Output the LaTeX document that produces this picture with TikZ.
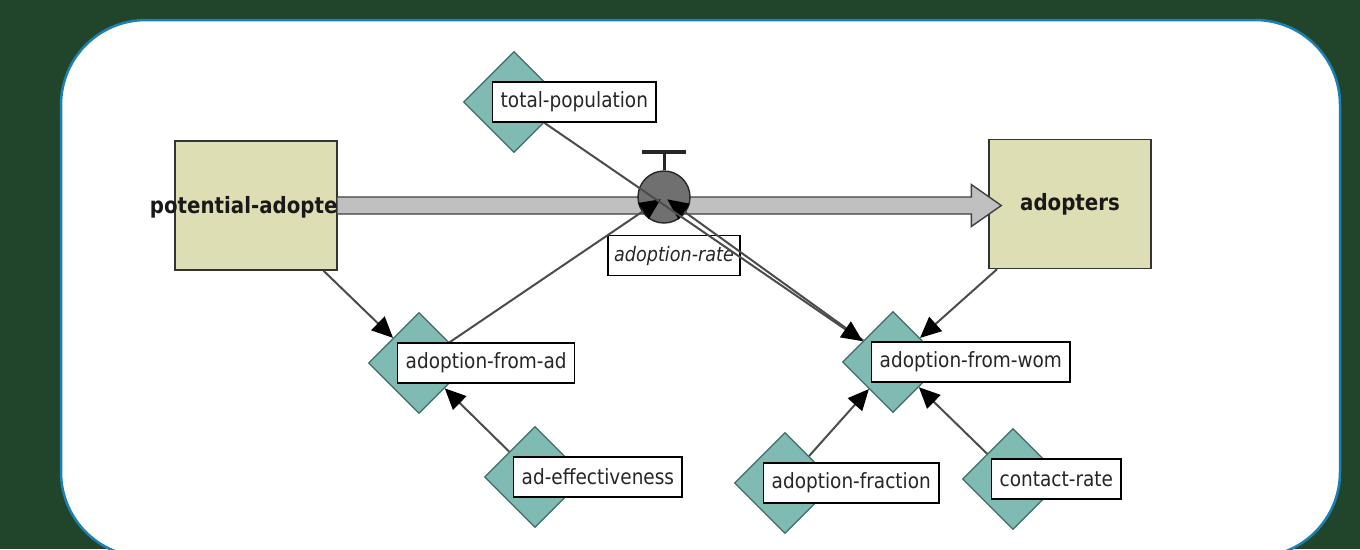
\documentclass[tikz,border=0pt]{standalone}
\usepackage{fontspec}
\newfontfamily\sdfont[FakeStretch=0.88]{DejaVu Sans}
\usetikzlibrary{arrows.meta,positioning,calc,shapes.geometric}
\definecolor{bgdark}{HTML}{21452B}
\definecolor{panelrim}{HTML}{1C80B4}
\definecolor{stockfill}{HTML}{DEDEB4}
\definecolor{auxfill}{HTML}{7FBAB3}
\definecolor{auxrim}{HTML}{3E6B66}
\definecolor{pipefill}{HTML}{C0C0C0}
\definecolor{valvefill}{HTML}{707070}
\tikzset{
  stock/.style={rectangle, draw=black!80, line width=1.4pt, fill=stockfill,
    minimum width=162pt, minimum height=129pt, inner sep=0pt},
  aux/.style={diamond, draw=auxrim, line width=1.2pt, fill=auxfill,
    minimum width=101pt, minimum height=101pt, inner sep=0pt},
  tag/.style={rectangle, draw=black, line width=1.4pt, fill=white, anchor=west,
    inner xsep=8pt, inner ysep=0pt, minimum height=40pt,
    font=\sdfont\fontsize{21}{24}\selectfont, text=black!85},
  stocklbl/.style={font=\sdfont\bfseries\fontsize{22.5}{26}\selectfont, text=black!90},
  link/.style={-{Triangle[length=21pt,width=19pt,color=black]}, line width=2pt, draw=black!70},
  pipe/.style={draw=black!75, line width=1.4pt, fill=pipefill},
}
\begin{document}
\begin{tikzpicture}[x=1pt, y=-1pt]
  \useasboundingbox (0,0) rectangle (1360,549);
  \fill[bgdark] (0,0) rectangle (1360,549);
  \begin{scope}
    \clip (0,0) rectangle (1360,549);
    \draw[panelrim, line width=2.5pt, fill=white, rounded corners=85pt] (61,20) rectangle (1340,557);
  \end{scope}
  \node[stock] (pa) at (256,205.5) {};
  \node[stocklbl, anchor=east, inner sep=0pt] (palbl) at ($(pa.east)+(0,1.5)$) {potential-adopte};
  \node[stock, stocklbl] (ad) at (1070,204) {adopters};
  \coordinate (pend) at (pa.east -| ad.west);
  \draw[pipe] ($(pa.east)+(0,-8.5)$) -- ($(pend)+(-17,-8.5)$) -- ($(pend)+(-17,-21)$)
    -- ($(pend)+(13,0)$) -- ($(pend)+(-17,21)$) -- ($(pend)+(-17,8.5)$) -- ($(pa.east)+(0,8.5)$);
  \node[circle, draw=black!85, line width=1.4pt, fill=valvefill, minimum size=52pt, inner sep=0pt]
    (valve) at (664,197) {};
  \draw[black!85, line width=3pt] (valve.north) -- ++(0,-17);
  \fill[black!85] ($(valve.north)+(-22,-16)$) rectangle ($(valve.north)+(22,-20)$);
  \node[tag, anchor=center, inner xsep=6pt, font=\sdfont\itshape\fontsize{20}{24}\selectfont]
    (rate) at (674,255.5) {adoption-rate};
  \node[aux] (tp) at (514,102) {};
  \node[aux] (afa) at (419,363) {};
  \node[aux] (afw) at (893,362) {};
  \node[aux] (ae) at (535,477) {};
  \node[aux] (af) at (785,483) {};
  \node[aux] (cr) at (1013,479) {};
  \draw[link] (pa) -- (afa);
  \draw[link] (ae) -- (afa);
  \draw[link, shorten >=4pt] (afa) -- (valve.center);
  \draw[link, shorten >=4pt] (afw) -- (valve.center);
  \draw[link] (tp) -- (afw);
  \draw[link] (ad) -- (afw);
  \draw[link] (af) -- (afw);
  \draw[link] (cr) -- (afw);
  \node[tag] (tplbl) at ($(tp)+(-22,0)$) {total-population};
  \node[tag] (afalbl) at ($(afa)+(-22,0)$) {adoption-from-ad};
  \node[tag] (afwlbl) at ($(afw)+(-22,0)$) {adoption-from-wom};
  \node[tag] (aelbl) at ($(ae)+(-22,0)$) {ad-effectiveness};
  \node[tag] (aflbl) at ($(af)+(-22,0)$) {adoption-fraction};
  \node[tag] (crlbl) at ($(cr)+(-22,0)$) {contact-rate};
\end{tikzpicture}
\end{document}
